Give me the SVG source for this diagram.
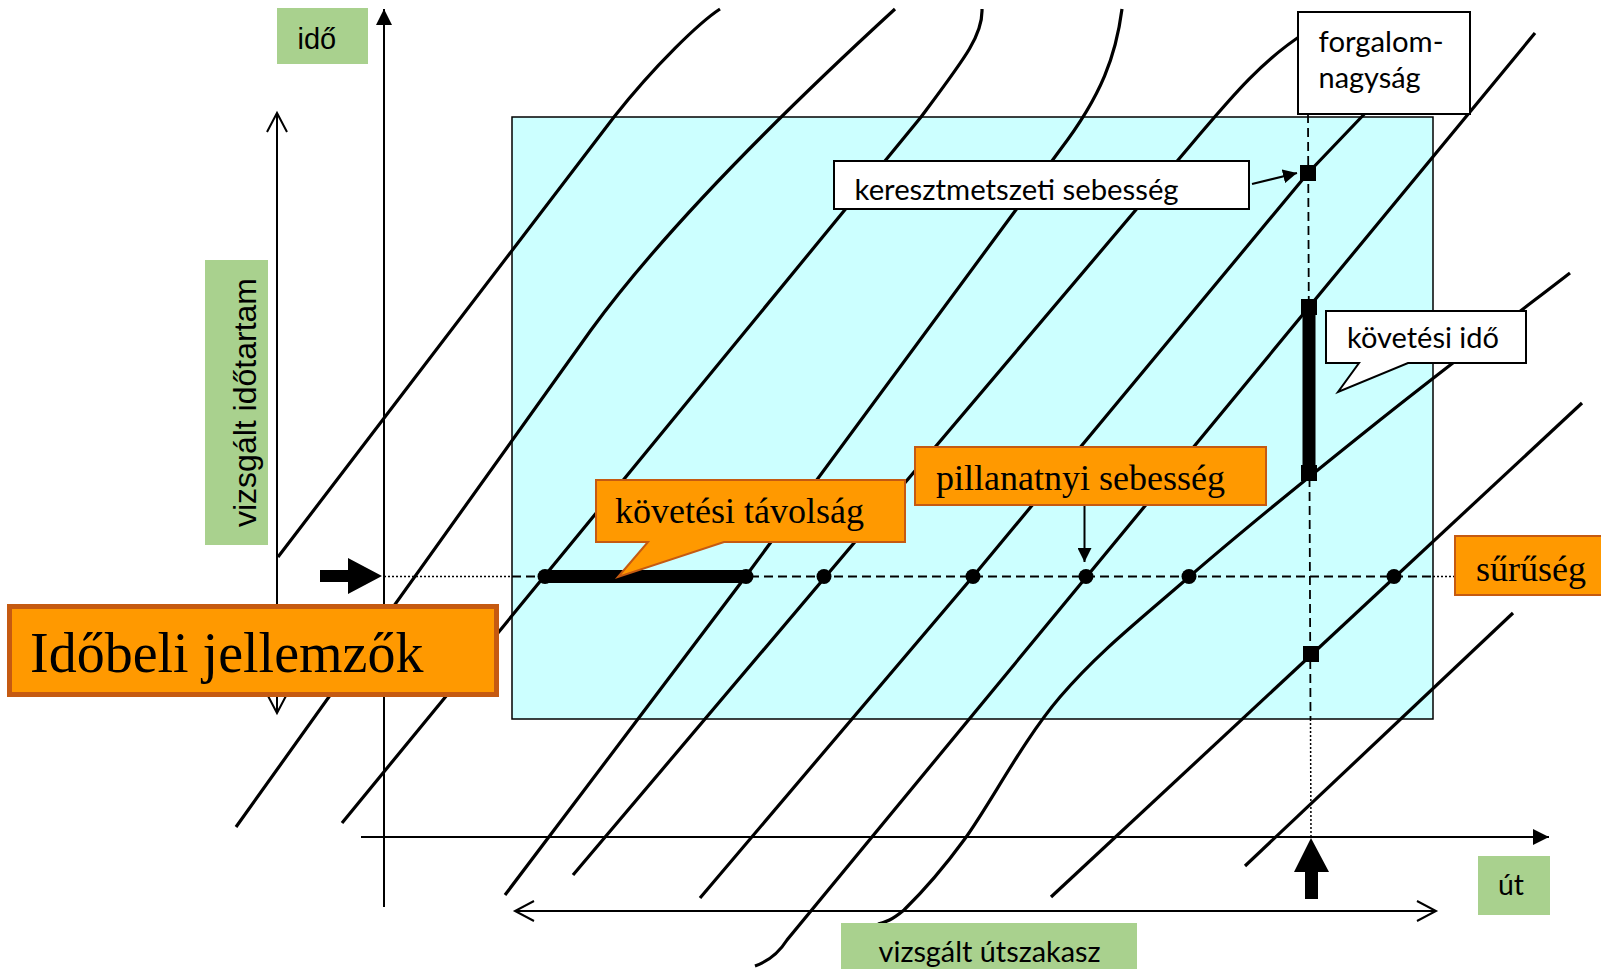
<svg xmlns="http://www.w3.org/2000/svg" width="1601" height="969" viewBox="0 0 1601 969">
<style>
.traj{fill:none;stroke:#000;stroke-width:3.2}
.ax{fill:none;stroke:#000;stroke-width:2}
.dash{fill:none;stroke:#000;stroke-width:1.8;stroke-dasharray:9 5}
.dot{fill:none;stroke:#000;stroke-width:1.5;stroke-dasharray:2 2}
.green{fill:#A9D18E}
.orange{fill:#FF9900;stroke:#C55A11;stroke-width:2}
.white{fill:#FFFFFF;stroke:#000;stroke-width:2}
.serif{font-family:"Liberation Serif","Times New Roman",serif;fill:#000}
.sans{font-family:"Liberation Sans",Arial,sans-serif;fill:#000}
.cal{font-family:Lato,"Open Sans",sans-serif;fill:#000;font-size:29px}
</style>
<defs>
<marker id="ah" viewBox="0 0 16 16" refX="16" refY="8" markerWidth="16" markerHeight="16" markerUnits="userSpaceOnUse" orient="auto"><path d="M0,0 L16,8 L0,16 z" fill="#000"/></marker>
<marker id="ahs" viewBox="0 0 14 14" refX="14" refY="7" markerWidth="14" markerHeight="14" markerUnits="userSpaceOnUse" orient="auto"><path d="M0,0 L14,7 L0,14 z" fill="#000"/></marker>
<marker id="oh" viewBox="-2 -2 24 24" refX="19" refY="10" markerWidth="24" markerHeight="24" markerUnits="userSpaceOnUse" orient="auto-start-reverse"><path d="M0,0 L19,10 L0,20" fill="none" stroke="#000" stroke-width="2"/></marker>
</defs>

<rect id="study-area" x="512" y="117" width="921" height="602" fill="#CCFFFF" stroke="#000" stroke-width="1.5"/>

<g id="connectors">
  <line class="ax" x1="384" y1="907" x2="384" y2="9" marker-end="url(#ah)"/>
  <line class="ax" x1="361" y1="837" x2="1549" y2="837" marker-end="url(#ah)"/>
  <line class="ax" x1="277" y1="713" x2="277" y2="113" marker-start="url(#oh)" marker-end="url(#oh)"/>
  <line class="ax" x1="515" y1="911" x2="1436" y2="911" marker-start="url(#oh)" marker-end="url(#oh)"/>

  <path class="traj" d="M720,9 C700,22 655,65 614,117 L278,557"/>
  <path class="traj" d="M895,9 Q684,202.5 591,330 L236,827"/>
  <path class="traj" d="M982,9 C983,35 965,58 921,117 L342,823"/>
  <path class="traj" d="M1122,9 C1116,55 1102,95 1060,150 L746,576 L505,895"/>
  <path class="traj" d="M1305,33 C1262,60 1229,100 1195,140 L573,875"/>
  <path class="traj" d="M1372,106 L1308,173 L973,576.5 L700,898"/>
  <path class="traj" d="M1535,33 L787,940 Q775,959 755,966"/>
  <path class="traj" d="M1570,273 C1538.3,297.5 1443.5,369.3 1380,420 C1316.5,470.7 1242.3,530.8 1189,577 C1135.7,623.2 1097.5,653.2 1060,697 C1022.5,740.8 990,804.5 964,840 C938,875.5 918,896.3 904,910 C892,920 886,922 878,924"/>
  <path class="traj" d="M1582,403 L1051,897"/>
  <path class="traj" d="M1513,613 L1245,866"/>

  <line class="dot" x1="384" y1="576.5" x2="512" y2="576.5"/>
  <line class="dash" x1="512" y1="576.5" x2="1433" y2="576.5"/>
  <line class="dot" x1="1433" y1="576.5" x2="1455" y2="576.5"/>
  <line class="dash" x1="1308" y1="114" x2="1310.5" y2="719"/>
  <line class="dot" x1="1310.5" y1="719" x2="1311" y2="836"/>

  <line x1="545" y1="576.5" x2="746" y2="576.5" stroke="#000" stroke-width="13"/>
  <line x1="1309" y1="307" x2="1309" y2="473" stroke="#000" stroke-width="13"/>

  <line class="ax" x1="1084.5" y1="505" x2="1084.5" y2="562" marker-end="url(#ahs)"/>
  <line class="ax" x1="1252" y1="184" x2="1297" y2="173" marker-end="url(#ahs)"/>

  <polygon points="320,570 348,570 348,558 382,576 348,594 348,582 320,582" fill="#000"/>
  <polygon points="1311,838 1329,872 1318,872 1318,899 1305,899 1305,872 1294,872" fill="#000"/>
</g>

<g id="points" fill="#000">
  <circle cx="545" cy="576.5" r="7.5"/>
  <circle cx="746" cy="576.5" r="7.5"/>
  <circle cx="824" cy="576.5" r="7.5"/>
  <circle cx="973" cy="576.5" r="7.5"/>
  <circle cx="1086" cy="576.5" r="7.5"/>
  <circle cx="1189" cy="576.5" r="7.5"/>
  <circle cx="1394" cy="576.5" r="7.5"/>
  <rect x="1300" y="165" width="16" height="16"/>
  <rect x="1301" y="299" width="16" height="16"/>
  <rect x="1301" y="465" width="16" height="16"/>
  <rect x="1303" y="646" width="16" height="16"/>
</g>

<g id="label-ido">
  <rect class="green" x="277" y="8" width="91" height="56"/>
  <text class="sans" x="297.5" y="49" font-size="29">idő</text>
</g>
<g id="label-vizsgalt-idotartam">
  <rect class="green" x="205" y="260" width="63" height="285"/>
  <text class="sans" font-size="32" text-anchor="middle" transform="translate(256,402.5) rotate(-90)">vizsgált időtartam</text>
</g>
<g id="label-ut">
  <rect class="green" x="1478" y="856" width="72" height="59"/>
  <text class="cal" x="1498" y="895" textLength="26" lengthAdjust="spacingAndGlyphs">út</text>
</g>
<g id="label-vizsgalt-utszakasz">
  <rect class="green" x="841" y="923" width="296" height="50"/>
  <text class="cal" x="878.6" y="962" textLength="222" lengthAdjust="spacingAndGlyphs">vizsgált útszakasz</text>
</g>
<g id="title-idobeli-jellemzok">
  <rect x="9.5" y="606.5" width="487" height="88" fill="#FF9900" stroke="#C55A11" stroke-width="5"/>
  <text class="serif" x="30" y="672" font-size="56">Időbeli jellemzők</text>
</g>
<g id="callout-kovetesi-tavolsag">
  <path class="orange" d="M596,480 H905 V542 H724 L618,577 L648,542 H596 Z"/>
  <text class="serif" x="615" y="523" font-size="36">követési távolság</text>
</g>
<g id="label-pillanatnyi-sebesseg">
  <rect class="orange" x="915" y="447" width="351" height="58"/>
  <text class="serif" x="936" y="490" font-size="36">pillanatnyi sebesség</text>
</g>
<g id="label-suruseg">
  <rect class="orange" x="1455" y="536" width="150" height="59"/>
  <text class="serif" x="1476" y="581" font-size="36">sűrűség</text>
</g>
<g id="label-keresztmetszeti-sebesseg">
  <rect class="white" x="834" y="161" width="415" height="48"/>
  <text class="cal" x="854.6" y="200" textLength="324" lengthAdjust="spacingAndGlyphs">keresztmetszeti sebesség</text>
</g>
<g id="label-forgalomnagysag">
  <rect class="white" x="1298" y="12" width="172" height="102"/>
  <text class="cal" x="1318.6" y="52" textLength="125" lengthAdjust="spacingAndGlyphs">forgalom-</text>
  <text class="cal" x="1318.6" y="88" textLength="102" lengthAdjust="spacingAndGlyphs">nagyság</text>
</g>
<g id="callout-kovetesi-ido">
  <path class="white" d="M1326,311 H1526 V363 H1408 L1338,392 L1359,363 H1326 Z"/>
  <text class="cal" x="1347" y="348" textLength="152" lengthAdjust="spacingAndGlyphs">követési idő</text>
</g>
</svg>
